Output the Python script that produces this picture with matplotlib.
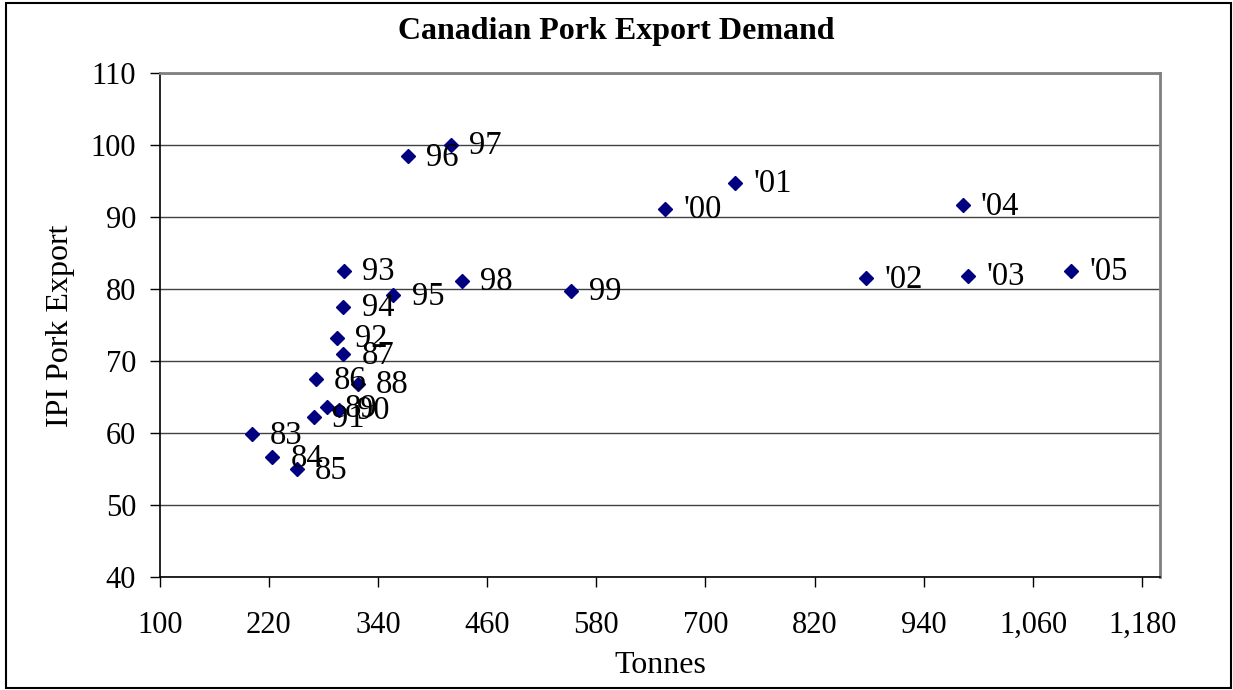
import matplotlib
matplotlib.use("Agg")
import matplotlib.pyplot as plt
from matplotlib.ticker import FuncFormatter
from matplotlib.patches import Rectangle

plt.rcParams['font.family'] = ['Liberation Serif', 'DejaVu Serif']

# Export volume (tonnes) vs. IPI pork export index, by year
years = ["83", "84", "85", "86", "87", "88", "89", "90", "91", "92", "93", "94",
         "95", "96", "97", "98", "99", "'00", "'01", "'02", "'03", "'04", "'05"]
tonnes = [201, 224, 251, 272, 302, 318, 284, 297, 270, 295, 303, 302,
          357, 373, 420, 432, 552, 656, 733, 877, 989, 983, 1102]
ipi = [59.9, 56.7, 55.0, 67.5, 71.0, 66.9, 63.6, 63.3, 62.2, 73.3, 82.6, 77.6,
       79.2, 98.5, 100.1, 81.2, 79.8, 91.2, 94.8, 81.5, 81.9, 91.7, 82.6]

x_ticks = [100, 220, 340, 460, 580, 700, 820, 940, 1060, 1180]
y_ticks = [40, 50, 60, 70, 80, 90, 100, 110]

W, H = 1233, 690
fig = plt.figure(figsize=(W / 100, H / 100), dpi=100)
ax = fig.add_axes([159.7 / W, 1 - 577.3 / H, (1160.3 - 159.7) / W, (577.3 - 73.3) / H])

ax.plot(tonnes, ipi, linestyle='none', marker='D', markersize=7.6,
        color='#000080', zorder=3)

for lab, xv, yv in zip(years, tonnes, ipi):
    ax.annotate(lab, (xv, yv), xytext=(13, -1), textcoords='offset points',
                ha='left', va='center', fontsize=23.5, color='black', zorder=4)

ax.set_xlim(100, 1200)
ax.set_ylim(40, 110)
ax.set_xticks(x_ticks)
ax.set_yticks(y_ticks)
ax.xaxis.set_major_formatter(FuncFormatter(lambda v, p: f"{v:,.0f}"))

ax.grid(axis='y', color='#404040', linewidth=1.0, zorder=1)
ax.set_axisbelow(True)

for side in ('top', 'right'):
    ax.spines[side].set_color('#808080')
    ax.spines[side].set_linewidth(2.0)
for side in ('left', 'bottom'):
    ax.spines[side].set_color('black')
    ax.spines[side].set_linewidth(1.2)

ax.tick_params(axis='both', direction='out', length=7, width=1.0,
               labelsize=22, color='black')
ax.tick_params(axis='y', pad=10)
ax.tick_params(axis='x', pad=17.5)

ax.set_xlabel("Tonnes", fontsize=23, labelpad=8)
ax.set_ylabel("IPI Pork Export", fontsize=23, labelpad=11)

fig.text(616 / W, 1 - 31 / H, "Canadian Pork Export Demand", ha='center',
         va='center', fontsize=23, fontweight='bold')

fig.patches.append(Rectangle((6 / W, 2 / H), (1231 - 6) / W, (687 - 2) / H,
                             transform=fig.transFigure, fill=False,
                             edgecolor='black', linewidth=1.5))

fig.savefig("out.png", dpi=100, facecolor='white')
